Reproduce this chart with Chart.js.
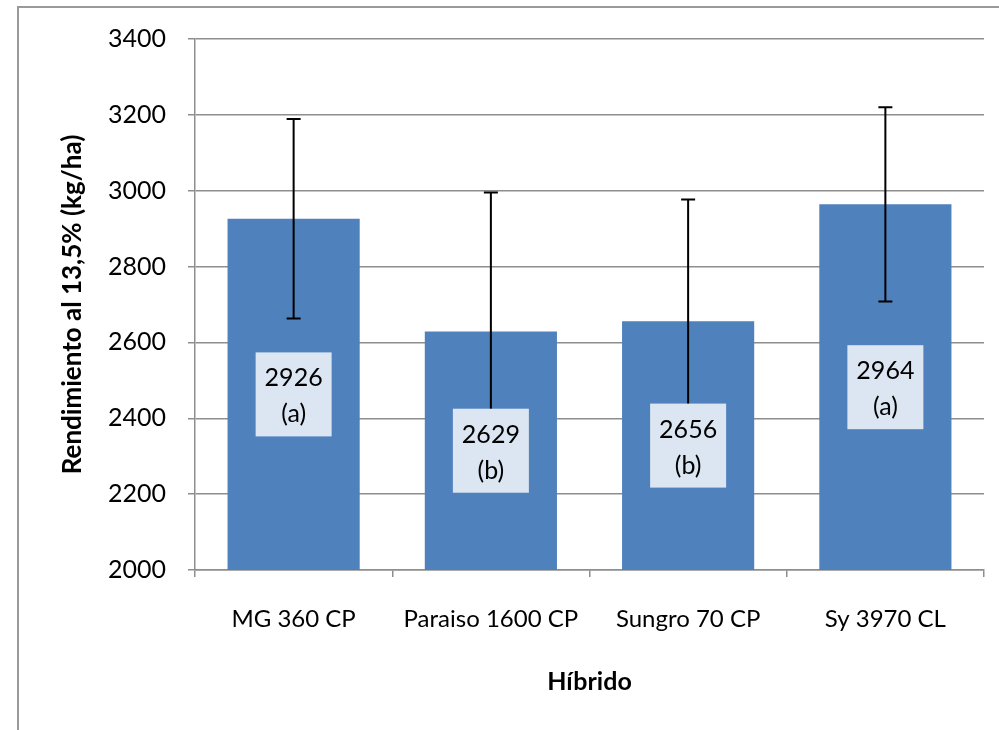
<!DOCTYPE html>
<html>
<head>
<meta charset="utf-8">
<script src="https://cdn.jsdelivr.net/npm/chart.js@4"></script>
<style>
  html, body { margin: 0; padding: 0; background: #fff; }
  #wrap { width: 999px; height: 730px; }
</style>
</head>
<body>
<div id="wrap"><canvas id="myChart"></canvas></div>
<script>
// data
const hybrids = ["MG 360 CP", "Paraiso 1600 CP", "Sungro 70 CP", "Sy 3970 CL"];
const yields = [2926, 2629, 2656, 2964];
const errors = [263, 366, 321, 256];
const letters = ["a", "b", "b", "a"];
const yTicks = [2000, 2200, 2400, 2600, 2800, 3000, 3200, 3400];

const FONT = "Lato, 'Open Sans', sans-serif";
const GRID = "#8e8e8e";

//------------------------------------------
// white page + the outer frame of the chart
const frame = {
  id: "frame",
  beforeDraw(chart) {
    const c = chart.ctx;
    c.save();
    c.fillStyle = "#fff";
    c.fillRect(0, 0, chart.width, chart.height);
    c.strokeStyle = "#9a9a9a";
    c.lineWidth = 2;
    c.strokeRect(18, 7, 1000, 1000);
    c.restore();
  },
};

//------------------------------------------
// error bars, then the centred value boxes on top of them
const barExtras = {
  id: "barExtras",
  afterDatasetsDraw(chart) {
    const c = chart.ctx;
    const y = chart.scales.y;
    const x = chart.scales.x;
    const base = y.getPixelForValue(y.min);
    c.save();
    c.strokeStyle = "#000";
    c.lineWidth = 2;
    yields.forEach((v, i) => {
      const px = x.getPixelForValue(i);
      const hi = y.getPixelForValue(v + errors[i]);
      const lo = y.getPixelForValue(v - errors[i]);
      c.beginPath();
      c.moveTo(px, hi);
      c.lineTo(px, lo);
      c.moveTo(px - 7, hi);
      c.lineTo(px + 7, hi);
      c.moveTo(px - 7, lo);
      c.lineTo(px + 7, lo);
      c.stroke();
    });
    yields.forEach((v, i) => {
      const px = x.getPixelForValue(i);
      const cy = (y.getPixelForValue(v) + base) / 2;
      c.fillStyle = "#dce6f2";
      c.fillRect(px - 38, cy - 42, 76, 84);
      c.fillStyle = "#000";
      c.font = "25px " + FONT;
      c.textAlign = "center";
      c.textBaseline = "middle";
      c.fillText(String(v), px, cy - 16);
      c.fillText("(" + letters[i] + ")", px, cy + 20);
    });
    c.restore();
  },
};

//------------------------------------------
const ctx = document.getElementById("myChart");
const myChart = new Chart(ctx, {
  type: "bar",
  data: {
    labels: hybrids,
    datasets: [
      {
        data: yields,
        backgroundColor: "#4f81bd",
        categoryPercentage: 1,
        barPercentage: 0.67,
      },
    ],
  },
  options: {
    responsive: true,
    maintainAspectRatio: false,
    animation: false,
    layout: { padding: { top: 39, right: 15, left: 0, bottom: 0 } },
    plugins: {
      legend: { display: false },
      tooltip: { enabled: false },
    },
    scales: {
      x: {
        afterFit: (s) => { s.height = 160; },
        grid: {
          offset: true,
          drawOnChartArea: false,
          color: GRID,
          lineWidth: 1.5,
          tickLength: 7,
        },
        border: { color: GRID, width: 1.5 },
        ticks: { color: "#000", font: { family: FONT, size: 24 }, padding: 28 },
        title: {
          display: true,
          text: "Híbrido",
          color: "#000",
          font: { family: FONT, size: 25, weight: "bold" },
          padding: { top: 0, bottom: 33 },
        },
      },
      y: {
        min: 2000,
        max: 3400,
        afterFit: (s) => { s.width = 195; },
        afterBuildTicks: (s) => { s.ticks = yTicks.map((v) => ({ value: v })); },
        grid: { color: GRID, lineWidth: 1.5, tickLength: 7 },
        border: { color: GRID, width: 1.5 },
        ticks: {
          color: "#000",
          font: { family: FONT, size: 25 },
          padding: 22,
          callback: (v) => String(v),
        },
        title: {
          display: true,
          text: "Rendimiento al 13,5% (kg/ha)",
          color: "#000",
          font: { family: FONT, size: 26, weight: "bold" },
          padding: { top: 57, bottom: 0 },
        },
      },
    },
  },
  plugins: [frame, barExtras],
});
</script>
</body>
</html>
